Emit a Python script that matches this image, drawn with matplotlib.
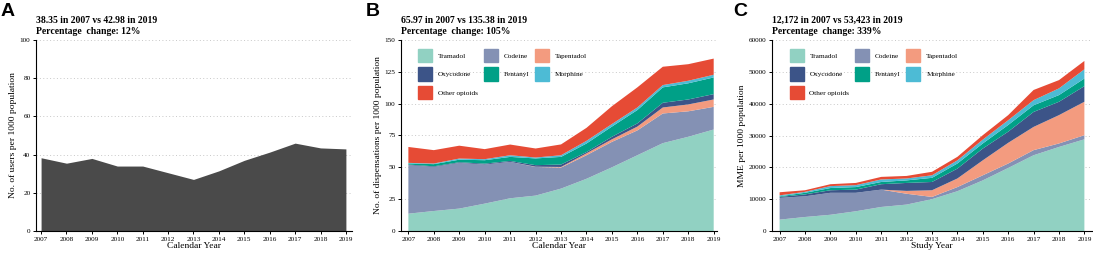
import numpy as np
import matplotlib
matplotlib.use("Agg")
import matplotlib.pyplot as plt
from matplotlib.patches import Patch

plt.rcParams['font.family'] = ['Liberation Serif', 'DejaVu Serif']

years = list(range(2007, 2020))

# panel A - users per 1000
users = [38.35, 35.5, 38.0, 34.0, 34.0, 30.5, 27.0, 31.5, 37.0, 41.3, 46.0, 43.5, 42.98]

drugs = ["Tramadol", "Codeine", "Tapentadol", "Oxycodone", "Fentanyl", "Morphine", "Other opioids"]
colors = ["#91D1C2", "#8491B4", "#F39B7F", "#3C5488", "#00A087", "#4DBBD5", "#E64B35"]

# panel B - dispensations per 1000
b_tramadol = [13.6, 15.7, 17.6, 21.5, 25.7, 27.8, 33.3, 41.0, 50.0, 59.5, 69.0, 74.0, 79.7]
b_codeine = [38.1, 34.6, 35.9, 30.7, 28.6, 22.5, 16.5, 18.5, 20.0, 19.5, 23.3, 20.0, 17.8]
b_tapentadol = [0, 0, 0, 0, 0, 0.2, 0.5, 1.5, 2.0, 3.0, 4.7, 5.4, 5.8]
b_oxycodone = [0.5, 0.5, 0.5, 0.7, 0.7, 1.2, 1.9, 1.0, 2.0, 2.5, 3.7, 3.9, 4.2]
b_fentanyl = [0.9, 1.7, 2.0, 2.7, 3.2, 5.3, 6.0, 6.7, 8.0, 10.5, 12.1, 12.7, 13.1]
b_morphine = [0.4, 0.5, 0.9, 0.8, 1.3, 0.7, 1.3, 2.1, 2.0, 2.0, 1.8, 2.0, 2.1]
b_other = [12.5, 10.5, 10.1, 7.9, 8.4, 7.1, 8.5, 10.2, 14.0, 15.8, 14.4, 13.0, 12.7]

# panel C - MME per 1000
c_tramadol = [3570, 4400, 5100, 6200, 7550, 8300, 10000, 12500, 15900, 19800, 23800, 26400, 28800]
c_codeine = [6830, 6500, 6900, 5800, 5450, 3400, 700, 1300, 1600, 1400, 1600, 1100, 1300]
c_tapentadol = [0, 0, 0, 0, 0, 900, 2100, 2700, 4700, 6500, 7300, 8900, 10500]
c_oxycodone = [300, 600, 800, 1000, 1700, 2500, 2600, 3100, 3700, 3500, 4700, 4200, 4900]
c_fentanyl = [200, 500, 700, 800, 700, 800, 1300, 1600, 1600, 2100, 2100, 2100, 2400]
c_morphine = [300, 300, 600, 600, 800, 600, 800, 1000, 1200, 1500, 1600, 2100, 2900]
c_other = [972, 500, 600, 700, 800, 800, 1100, 1100, 1400, 1600, 3200, 2600, 2623]

W, H = 1093, 254
fig = plt.figure(figsize=(W / 100, H / 100), dpi=100)


def make_ax(x0, x1, y0=40, y1=231):
    return fig.add_axes([x0 / W, (H - y1) / H, (x1 - x0) / W, (y1 - y0) / H])


def style(ax, xlim, ylim, yticks, xlabel, ylabel, title, letter, letter_x):
    ax.set_xlim(*xlim)
    ax.set_ylim(*ylim)
    ax.set_xticks(years)
    ax.set_yticks(yticks)
    ax.tick_params(labelsize=5.2, length=2.5, width=0.7, pad=1.5)
    for s in ["top", "right"]:
        ax.spines[s].set_visible(False)
    for s in ["left", "bottom"]:
        ax.spines[s].set_linewidth(0.8)
    ax.yaxis.grid(True, linestyle=(0, (1, 2.5)), color="#c8c8c8", linewidth=0.7)
    ax.set_axisbelow(True)
    ax.set_xlabel(xlabel, fontsize=6.8, labelpad=0.5)
    ax.set_ylabel(ylabel, fontsize=6.8, labelpad=2)
    ax.text(0.0, 1.022, title, transform=ax.transAxes, fontsize=6.9,
            fontweight="bold", ha="left", va="bottom", linespacing=1.3)
    fig.text(letter_x / W, 1 - 3 / H, letter, fontsize=14, fontweight="bold",
             family="Liberation Sans", ha="left", va="top")


def add_legend(ax):
    handles = [Patch(color=c) for c in colors]
    order = [0, 3, 6, 1, 4, 2, 5]
    ax.legend([handles[i] for i in order], [drugs[i] for i in order],
              ncol=3, loc="upper left", bbox_to_anchor=(0.055, 0.955),
              frameon=False, fontsize=5.2, handlelength=1.95, handleheight=2.5,
              handletextpad=0.8, labelspacing=0.7, columnspacing=0.8,
              borderpad=0, borderaxespad=0)


# A
axA = make_ax(36, 352)
axA.fill_between(years, users, 0, color="#4a4a4a", linewidth=0)
style(axA, (2006.8, 2019.24), (0, 100), range(0, 101, 20), "Calendar Year",
      "No. of users per 1000 population",
      "38.35 in 2007 vs 42.98 in 2019\nPercentage  change: 12%", "A", 1)

# B
axB = make_ax(401, 717)
axB.stackplot(years, b_tramadol, b_codeine, b_tapentadol, b_oxycodone,
              b_fentanyl, b_morphine, b_other, colors=colors, linewidth=0)
style(axB, (2006.71, 2019.13), (0, 150), range(0, 151, 25), "Calendar Year",
      "No. of dispensations per 1000 population",
      "65.97 in 2007 vs 135.38 in 2019\nPercentage  change: 105%", "B", 366)
add_legend(axB)

# C
axC = make_ax(772, 1092)
axC.stackplot(years, c_tramadol, c_codeine, c_tapentadol, c_oxycodone,
              c_fentanyl, c_morphine, c_other, colors=colors, linewidth=0)
style(axC, (2006.7, 2019.3), (0, 60000), range(0, 60001, 10000), "Study Year",
      "MME per 1000 population",
      "12,172 in 2007 vs 53,423 in 2019\nPercentage  change: 339%", "C", 733)
add_legend(axC)

fig.savefig("out.png", dpi=100)
